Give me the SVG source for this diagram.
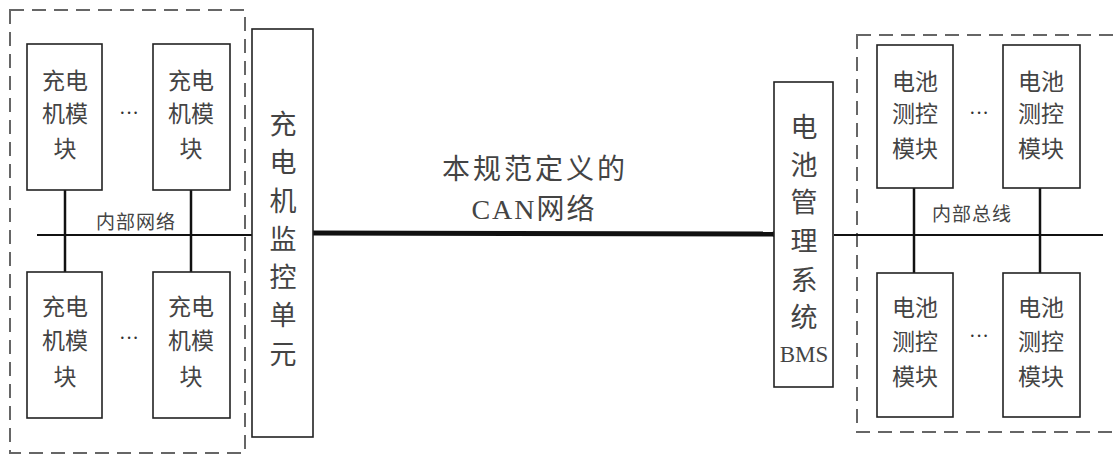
<svg xmlns="http://www.w3.org/2000/svg" width="1117" height="457" viewBox="0 0 1117 457">
<style>
.box{fill:#fff;stroke:#222;stroke-width:1.6}
.dash{fill:none;stroke:#666;stroke-width:2;stroke-dasharray:14,8}
.t{font-family:"Liberation Serif","Noto Sans CJK SC",serif;fill:#444;text-anchor:middle}
.m{font-size:23px}
.big{font-size:27px}
.small{font-size:19px;letter-spacing:1px}
.ln{stroke:#111;fill:none}
.dots{font-family:"Liberation Serif",serif;font-size:20px;fill:#333;text-anchor:middle}
</style>
<rect width="1117" height="457" fill="#fff"/>
<rect class="dash" x="10" y="10" width="235" height="443"/>
<rect class="dash" x="857" y="35" width="270" height="397"/>
<g id="connectors">
<line class="ln" x1="65" y1="190" x2="65" y2="272" stroke-width="2.5"/>
<line class="ln" x1="191" y1="190" x2="191" y2="272" stroke-width="2.5"/>
<line class="ln" x1="37" y1="235" x2="252" y2="235" stroke-width="2"/>
<line class="ln" x1="313" y1="233" x2="775" y2="234" stroke-width="5"/>
<circle cx="775" cy="234" r="3" fill="#111"/>
<line class="ln" x1="914" y1="188" x2="914" y2="273" stroke-width="2.5"/>
<line class="ln" x1="1040" y1="188" x2="1040" y2="273" stroke-width="2.5"/>
<line class="ln" x1="834" y1="235" x2="1103" y2="235" stroke-width="2"/>
</g>
<text class="t small" x="136" y="229">内部网络</text>
<text class="t small" x="972" y="221">内部总线</text>
<g id="cm1"><rect class="box" x="27" y="44" width="75" height="146"/>
<text class="t m" x="65" y="89">充电</text><text class="t m" x="65" y="122">机模</text><text class="t m" x="65" y="157">块</text></g>
<g id="cm2"><rect class="box" x="153" y="44" width="77" height="146"/>
<text class="t m" x="191" y="89">充电</text><text class="t m" x="191" y="122">机模</text><text class="t m" x="191" y="157">块</text></g>
<g id="cm3"><rect class="box" x="27" y="272" width="75" height="146"/>
<text class="t m" x="65" y="315">充电</text><text class="t m" x="65" y="349">机模</text><text class="t m" x="65" y="385">块</text></g>
<g id="cm4"><rect class="box" x="153" y="272" width="77" height="146"/>
<text class="t m" x="191" y="315">充电</text><text class="t m" x="191" y="349">机模</text><text class="t m" x="191" y="385">块</text></g>
<text class="dots" x="129" y="120">···</text>
<text class="dots" x="129" y="345">···</text>
<g id="monitor"><rect class="box" x="252" y="29" width="61" height="408"/>
<text class="t big" x="283" y="134">充</text><text class="t big" x="283" y="172">电</text><text class="t big" x="283" y="211">机</text><text class="t big" x="283" y="249">监</text><text class="t big" x="283" y="287">控</text><text class="t big" x="283" y="325">单</text><text class="t big" x="283" y="364">元</text></g>
<g id="canlabel"><text class="t" style="font-size:28px;letter-spacing:3px" x="535" y="179">本规范定义的</text>
<text class="t" style="font-size:28px;letter-spacing:2px" x="534" y="219">CAN网络</text></g>
<g id="bms"><rect class="box" x="774" y="82" width="59" height="305"/>
<text class="t big" x="804" y="137">电</text><text class="t big" x="804" y="175">池</text><text class="t big" x="804" y="212">管</text><text class="t big" x="804" y="251">理</text><text class="t big" x="804" y="290">系</text><text class="t big" x="804" y="327">统</text>
<text class="t" style="font-size:23px" x="804" y="362">BMS</text></g>
<g id="bm1"><rect class="box" x="877" y="45" width="76" height="143"/>
<text class="t m" x="915" y="90">电池</text><text class="t m" x="915" y="122">测控</text><text class="t m" x="915" y="157">模块</text></g>
<g id="bm2"><rect class="box" x="1003" y="45" width="77" height="143"/>
<text class="t m" x="1041" y="90">电池</text><text class="t m" x="1041" y="122">测控</text><text class="t m" x="1041" y="157">模块</text></g>
<g id="bm3"><rect class="box" x="877" y="273" width="76" height="144"/>
<text class="t m" x="915" y="316">电池</text><text class="t m" x="915" y="350">测控</text><text class="t m" x="915" y="385">模块</text></g>
<g id="bm4"><rect class="box" x="1003" y="273" width="77" height="144"/>
<text class="t m" x="1041" y="316">电池</text><text class="t m" x="1041" y="350">测控</text><text class="t m" x="1041" y="385">模块</text></g>
<text class="dots" x="979" y="120">···</text>
<text class="dots" x="979" y="343">···</text>
</svg>
